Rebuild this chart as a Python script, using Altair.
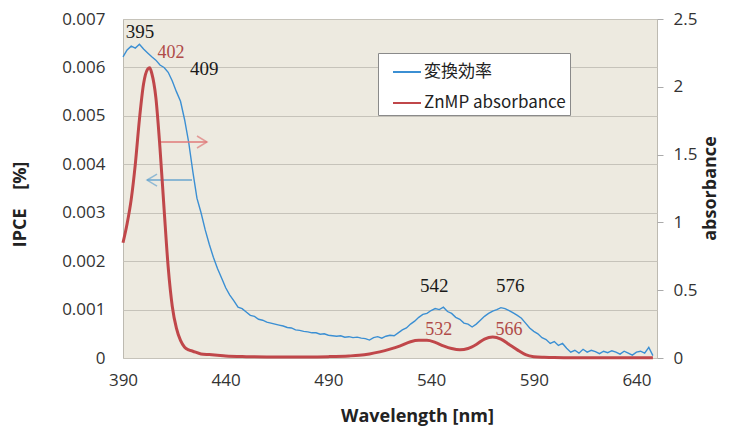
import altair as alt
import pandas as pd

# IPCE (x1e-3 %) sampled every 2 nm from 390 nm
ipce_start = 390
ipce_step = 2
ipce_e3 = [
    6.22, 6.36, 6.44, 6.40, 6.48, 6.38, 6.30, 6.22, 6.15, 6.05,
    6.00, 5.90, 5.72, 5.50, 5.30, 4.92, 4.45, 3.85, 3.30, 3.00,
    2.65, 2.35, 2.08, 1.85, 1.65, 1.45, 1.30, 1.18, 1.05, 1.02,
    0.95, 0.88, 0.86, 0.80, 0.78, 0.74, 0.72, 0.70, 0.68, 0.66,
    0.63, 0.62, 0.58, 0.57, 0.55, 0.54, 0.52, 0.52, 0.49, 0.50,
    0.47, 0.46, 0.45, 0.46, 0.43, 0.44, 0.42, 0.43, 0.41, 0.40,
    0.37, 0.42, 0.44, 0.41, 0.45, 0.47, 0.46, 0.52, 0.58, 0.62,
    0.70, 0.76, 0.84, 0.90, 0.92, 0.98, 1.02, 1.00, 1.05, 0.96,
    0.92, 0.84, 0.80, 0.72, 0.70, 0.64, 0.70, 0.78, 0.86, 0.92,
    0.97, 1.00, 1.04, 1.02, 0.98, 0.93, 0.88, 0.82, 0.72, 0.62,
    0.55, 0.50, 0.42, 0.38, 0.30, 0.34, 0.26, 0.30, 0.20, 0.12,
    0.16, 0.10, 0.18, 0.12, 0.16, 0.13, 0.09, 0.14, 0.11, 0.15,
    0.12, 0.08, 0.14, 0.10, 0.06, 0.12, 0.14, 0.10, 0.22, 0.05,
]
ipce_wl = [ipce_start + ipce_step * i for i in range(len(ipce_e3))]

# ZnMP absorbance
abs_wl = [390, 392, 394, 396, 398, 400, 402, 403, 404, 406, 408, 410, 412, 414,
          416, 418, 420, 422, 424, 428, 432, 436, 440, 450, 460, 470, 480, 490,
          500, 505, 510, 515, 520, 525, 530, 534, 538, 542, 546, 550, 554, 558,
          562, 566, 570, 574, 578, 582, 586, 590, 595, 600, 620, 648]
abs_val = [0.85, 0.99, 1.17, 1.43, 1.76, 2.02, 2.13, 2.14, 2.10, 1.92, 1.55, 1.10, 0.67, 0.38,
           0.22, 0.13, 0.08, 0.06, 0.05, 0.03, 0.025, 0.02, 0.015, 0.01, 0.008, 0.008, 0.008, 0.01,
           0.015, 0.02, 0.03, 0.045, 0.065, 0.09, 0.12, 0.13, 0.13, 0.115, 0.09, 0.07, 0.06, 0.07,
           0.10, 0.14, 0.155, 0.14, 0.10, 0.06, 0.025, 0.01, 0.005, 0.003, 0.002, 0.002]

series_names = ["変換効率", "ZnMP absorbance"]
series_colors = ["#3b8fd3", "#c0474a"]

# peak annotations (wavelength position, IPCE-axis position)
lab_black_text = ["395", "409", "542", "576"]
lab_black_x = [398.3, 429.5, 541.6, 578.6]
lab_black_y = [0.00661, 0.00584, 0.00136, 0.00136]
lab_red_text = ["402", "532", "566"]
lab_red_x = [413.4, 543.7, 577.9]
lab_red_y = [0.00619, 0.000475, 0.000475]

# arrows (start wl, end wl, IPCE level)
arrow_red = (408.0, 430.9, 0.00446)
arrow_blue = (423.6, 401.7, 0.003675)

ipce_df = pd.DataFrame({"wl": ipce_wl, "ipce": [v / 1000 for v in ipce_e3],
                        "series": series_names[0]})
abs_df = pd.DataFrame({"wl": abs_wl, "abs": abs_val, "series": series_names[1]})
black_df = pd.DataFrame({"wl": lab_black_x, "ipce": lab_black_y, "t": lab_black_text})
red_df = pd.DataFrame({"wl": lab_red_x, "ipce": lab_red_y, "t": lab_red_text})
arrows_df = pd.DataFrame({
    "wl": [arrow_red[0], arrow_blue[0]], "wl2": [arrow_red[1], arrow_blue[1]],
    "ipce": [arrow_red[2], arrow_blue[2]], "c": ["r", "b"],
})

TICKF = "Open Sans"
xsc = alt.Scale(domain=[390, 650], nice=False, zero=False)
ysc = alt.Scale(domain=[0, 0.007], nice=False)
color = alt.Color("series:N", scale=alt.Scale(domain=series_names, range=series_colors),
                  sort=series_names,
                  legend=alt.Legend(title=None, orient="none", legendX=255, legendY=34,
                                    fillColor="white", strokeColor="#8a8a8a", padding=4,
                                    symbolType="stroke", symbolSize=784, symbolStrokeWidth=2,
                                    symbolOffset=10,
                                    labelFont="Noto Sans CJK JP", labelFontSize=17,
                                    labelColor="#222", rowPadding=8, labelOffset=2,
                                    labelExpr="datum.label + '\u00a0\u00a0\u00a0\u00a0\u00a0\u00a0'",
                                    labelLimit=300))

xaxis = alt.Axis(values=[390, 440, 490, 540, 590, 640], grid=False, ticks=False, domain=False,
                 labelFlush=False,
                 labelFont=TICKF, labelFontSize=17, labelColor="#333", labelPadding=14,
                 title="Wavelength [nm]", titleFont=TICKF, titleFontSize=18,
                 titleFontWeight="bold", titleColor="#222", titleX=294, titleY=63,
                 titleBaseline="alphabetic")
yaxis = alt.Axis(values=[0, 0.001, 0.002, 0.003, 0.004, 0.005, 0.006, 0.007],
                 labelExpr="datum.value == 0 ? '0' : format(datum.value, '.3f')",
                 grid=True, gridColor="#c6c3ba", gridWidth=1, ticks=False,
                 domain=False, labelFont=TICKF, labelFontSize=17,
                 labelColor="#333", labelPadding=18,
                 title="IPCE\u00a0\u00a0\u00a0\u00a0[%]", titleFont=TICKF,
                 titleFontSize=18, titleFontWeight="bold", titleColor="#222",
                 titleX=-103, titleY=185, titleAngle=270,
                 titleBaseline="middle")

X = alt.X("wl:Q", scale=xsc, axis=xaxis)
Y = alt.Y("ipce:Q", scale=ysc, axis=yaxis)

blue = alt.Chart(ipce_df).mark_line(strokeWidth=1.4).encode(x=X, y=Y, color=color)

txt_black = alt.Chart(black_df).mark_text(font="Liberation Serif", fontSize=19,
                                          color="#1a1a1a", baseline="alphabetic").encode(
    x=X, y=Y, text="t:N")
txt_red = alt.Chart(red_df).mark_text(font="Liberation Serif", fontSize=18,
                                      color="#b04a48", baseline="alphabetic").encode(
    x=X, y=Y, text="t:N")

arrow_lines = alt.Chart(arrows_df).mark_rule(strokeWidth=1.5).encode(
    x=X, x2="wl2:Q", y=Y,
    stroke=alt.Stroke("c:N", scale=alt.Scale(domain=["r", "b"], range=["#e07a7a", "#6aa6cf"]),
                      legend=None))
head_r = alt.Chart(arrows_df[arrows_df.c == "r"]).mark_point(
    shape="M-1,-0.6L0,0L-1,0.6", filled=False, size=400, strokeWidth=1.5, color="#e07a7a"
).encode(x=alt.X("wl2:Q", scale=xsc, axis=xaxis), y=Y)
head_b = alt.Chart(arrows_df[arrows_df.c == "b"]).mark_point(
    shape="M1,-0.6L0,0L1,0.6", filled=False, size=400, strokeWidth=1.5, color="#6aa6cf"
).encode(x=alt.X("wl2:Q", scale=xsc, axis=xaxis), y=Y)

left = alt.layer(blue, arrow_lines, head_r, head_b, txt_black, txt_red)

red = alt.Chart(abs_df).mark_line(strokeWidth=3, interpolate="monotone").encode(
    x=X,
    y=alt.Y("abs:Q", scale=alt.Scale(domain=[0, 2.5], nice=False),
            axis=alt.Axis(orient="right", values=[0, 0.5, 1, 1.5, 2, 2.5], format="~g",
                          grid=False, ticks=True, tickSize=6, tickColor="#aaa",
                          domain=False, labelFont=TICKF, labelFontSize=17,
                          labelColor="#333", labelPadding=10,
                          title="absorbance", titleFont=TICKF, titleFontSize=18,
                          titleFontWeight="bold", titleColor="#222",
                          titleX=53, titleY=169, titleAngle=270, titleBaseline="middle")),
    color=color,
)

chart = alt.layer(left, red).resolve_scale(y="independent", stroke="independent").properties(
    width=534, height=339,
    autosize=alt.AutoSizeParams(type="none"),
    padding={"left": 115, "top": 11, "right": 64, "bottom": 68},
    background="white",
).configure_view(fill="#edeae0", stroke="#bdbab1", strokeWidth=1)

chart.save("out.html", embed_options={"renderer": "svg", "actions": False})
